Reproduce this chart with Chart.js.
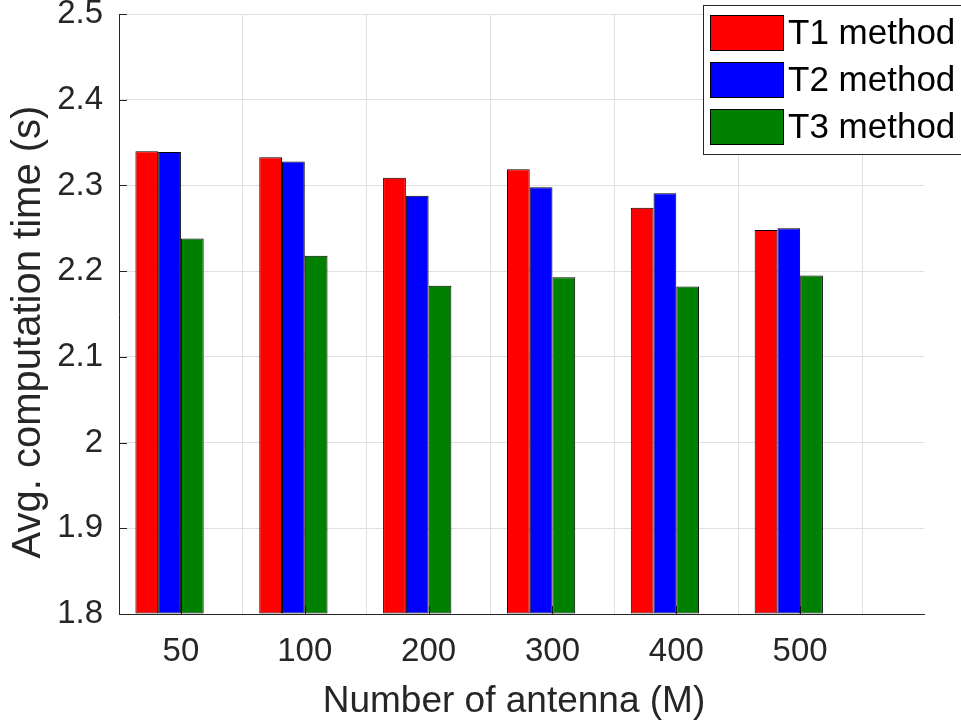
<!DOCTYPE html>
<html>
<head>
<meta charset="utf-8">
<script src="https://cdn.jsdelivr.net/npm/chart.js@4/dist/chart.umd.min.js"></script>
<style>
  html, body { margin: 0; padding: 0; background: #ffffff; }
  #wrap { width: 961px; height: 723px; position: relative; }
</style>
</head>
<body>
<div id="wrap"><canvas id="c" width="961" height="723"></canvas></div>
<script>
// Antenna counts on the x axis
const categories = ['50', '100', '200', '300', '400', '500'];
// Average computation time (s) per method
const t1Values = [2.340, 2.333, 2.309, 2.319, 2.274, 2.248];
const t2Values = [2.339, 2.328, 2.288, 2.298, 2.291, 2.250];
const t3Values = [2.238, 2.218, 2.183, 2.193, 2.182, 2.195];
// Fourth (empty) bar slot in every group
const emptySlot = [null, null, null, null, null, null];
const seriesNames = ['T1 method', 'T2 method', 'T3 method'];
const yTicks = [1.8, 1.9, 2.0, 2.1, 2.2, 2.3, 2.4, 2.5];
const xTitle = 'Number of antenna (M)';
const yTitle = 'Avg. computation time (s)';

const FONT = '"Liberation Sans", Arial, Helvetica, sans-serif';
const AXIS_COLOR = '#262626';
const GRID_COLOR = '#dfdfdf';
const yMin = yTicks[0];
const yMax = yTicks[yTicks.length - 1];

const toPoints = vals => vals.map((v, i) => ({ x: i + 1, y: v }));

// Inward-pointing tick marks on the left and bottom axes
const innerTicks = {
  id: 'innerTicks',
  beforeDatasetsDraw(chart) {
    const { ctx, chartArea: a, scales: { x, y } } = chart;
    ctx.save();
    ctx.strokeStyle = AXIS_COLOR;
    ctx.lineWidth = 1;
    ctx.beginPath();
    y.ticks.forEach(t => {
      const py = Math.round(y.getPixelForValue(t.value)) + 0.5;
      ctx.moveTo(a.left, py);
      ctx.lineTo(a.left + 8, py);
    });
    x.ticks.forEach(t => {
      const px = Math.round(x.getPixelForValue(t.value)) + 0.5;
      ctx.moveTo(px, a.bottom);
      ctx.lineTo(px, a.bottom - 8);
    });
    ctx.stroke();
    ctx.restore();
  }
};

// Axis titles
const axisTitles = {
  id: 'axisTitles',
  afterDraw(chart) {
    const { ctx } = chart;
    ctx.save();
    ctx.fillStyle = AXIS_COLOR;
    ctx.textAlign = 'center';
    ctx.textBaseline = 'middle';
    ctx.font = '37px ' + FONT;
    ctx.fillText(xTitle, 514, 702);
    ctx.translate(29, 332);
    ctx.rotate(-Math.PI / 2);
    ctx.font = '40px ' + FONT;
    ctx.fillText(yTitle, 0, 0);
    ctx.restore();
  }
};

// Boxed legend in the upper right corner
const boxLegend = {
  id: 'boxLegend',
  afterDraw(chart) {
    const { ctx } = chart;
    const items = chart.data.datasets.filter(d => d.label);
    const bx = 703.5, by = 5.5, bw = 270, bh = 149;
    ctx.save();
    ctx.fillStyle = '#ffffff';
    ctx.fillRect(bx, by, bw, bh);
    ctx.strokeStyle = AXIS_COLOR;
    ctx.lineWidth = 1;
    ctx.strokeRect(bx, by, bw, bh);
    items.forEach((d, i) => {
      const sy = 15 + i * 47;
      ctx.fillStyle = d.backgroundColor;
      ctx.fillRect(710, sy, 74, 36);
      ctx.strokeStyle = '#000000';
      ctx.strokeRect(710.5, sy + 0.5, 73, 35);
      ctx.fillStyle = '#000000';
      ctx.font = '35px ' + FONT;
      ctx.textAlign = 'left';
      ctx.textBaseline = 'middle';
      ctx.fillText(d.label, 788, sy + 19);
    });
    ctx.restore();
  }
};

const barCommon = { borderColor: '#000000', borderWidth: 1, borderSkipped: false, base: yMin };

new Chart(document.getElementById('c'), {
  type: 'bar',
  data: {
    datasets: [
      { label: seriesNames[0], data: toPoints(t1Values), backgroundColor: '#ff0000', ...barCommon },
      { label: seriesNames[1], data: toPoints(t2Values), backgroundColor: '#0000ff', ...barCommon },
      { label: seriesNames[2], data: toPoints(t3Values), backgroundColor: '#008000', ...barCommon },
      { label: '', data: toPoints(emptySlot), backgroundColor: '#ffffff', ...barCommon }
    ]
  },
  options: {
    responsive: false,
    animation: false,
    devicePixelRatio: 1,
    categoryPercentage: 0.735,
    barPercentage: 1.0,
    layout: { padding: { top: 14, right: 37, left: 0, bottom: 0 } },
    plugins: { legend: { display: false }, tooltip: { enabled: false } },
    scales: {
      x: {
        type: 'linear',
        min: 0.5,
        max: 7,
        offset: false,
        afterBuildTicks: s => { s.ticks = categories.map((c, i) => ({ value: i + 1 })); },
        afterFit: s => { s.height = 109; s.paddingLeft = 0; s.paddingRight = 0; },
        ticks: {
          autoSkip: false,
          maxRotation: 0,
          padding: 21,
          color: AXIS_COLOR,
          font: { family: FONT, size: 33, lineHeight: 1 },
          callback: v => categories[Math.round(v) - 1] ?? ''
        },
        grid: { color: GRID_COLOR, drawTicks: false },
        border: { display: true, color: AXIS_COLOR, width: 1 }
      },
      y: {
        min: yMin,
        max: yMax,
        afterBuildTicks: s => { s.ticks = yTicks.map(v => ({ value: v })); },
        afterFit: s => { s.width = 119; s.paddingTop = 0; s.paddingBottom = 0; },
        ticks: {
          padding: 16,
          color: AXIS_COLOR,
          font: { family: FONT, size: 33, lineHeight: 1 },
          callback: v => String(Number(v.toFixed(1)))
        },
        grid: { color: GRID_COLOR, drawTicks: false },
        border: { display: true, color: AXIS_COLOR, width: 1 }
      }
    }
  },
  plugins: [innerTicks, axisTitles, boxLegend]
});
</script>
</body>
</html>
